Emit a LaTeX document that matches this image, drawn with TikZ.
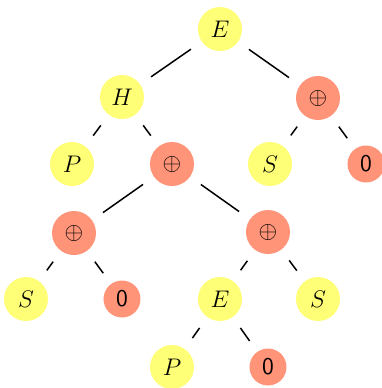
\documentclass[tikz,border=0pt]{standalone}
\usepackage{amsmath}
\begin{document}
\begin{tikzpicture}[x=0.5pt,y=-0.5pt,
  yel/.style={circle,fill=ylw,minimum size=22pt,inner sep=0pt,font=\large},
  org/.style={circle,fill=org,minimum size=22pt,inner sep=0pt,font=\large},
  zer/.style={circle,fill=org,minimum size=18.5pt,inner sep=0pt,font=\large\sffamily},
  edge/.style={line width=0.75pt,shorten >=6.5pt,shorten <=6.5pt}]
\definecolor{ylw}{RGB}{255,255,119}
\definecolor{org}{RGB}{255,148,120}
\useasboundingbox (0,0) rectangle (382,388);
\node[yel] (E0) at (220,29) {$E$};
\node[yel] (H) at (122,97) {$H$};
\node[org] (O1) at (318,98) {$\oplus$};
\node[yel] (P1) at (72,164) {$P$};
\node[org] (O2) at (172,164) {$\oplus$};
\node[yel] (S1) at (270,164) {$S$};
\node[zer] (Z1) at (366,164) {0};
\node[org] (O3) at (74,233) {$\oplus$};
\node[org] (O4) at (268,232) {$\oplus$};
\node[yel] (S2) at (26,299) {$S$};
\node[zer] (Z2) at (122,299) {0};
\node[yel] (E2) at (220,299) {$E$};
\node[yel] (S3) at (318,299) {$S$};
\node[yel] (P2) at (172,367) {$P$};
\node[zer] (Z3) at (268,367) {0};
\draw[edge] (E0) -- (H);
\draw[edge] (E0) -- (O1);
\draw[edge] (H) -- (P1);
\draw[edge] (H) -- (O2);
\draw[edge] (O1) -- (S1);
\draw[edge] (O1) -- (Z1);
\draw[edge] (O2) -- (O3);
\draw[edge] (O2) -- (O4);
\draw[edge] (O3) -- (S2);
\draw[edge] (O3) -- (Z2);
\draw[edge] (O4) -- (E2);
\draw[edge] (O4) -- (S3);
\draw[edge] (E2) -- (P2);
\draw[edge] (E2) -- (Z3);
\end{tikzpicture}
\end{document}
